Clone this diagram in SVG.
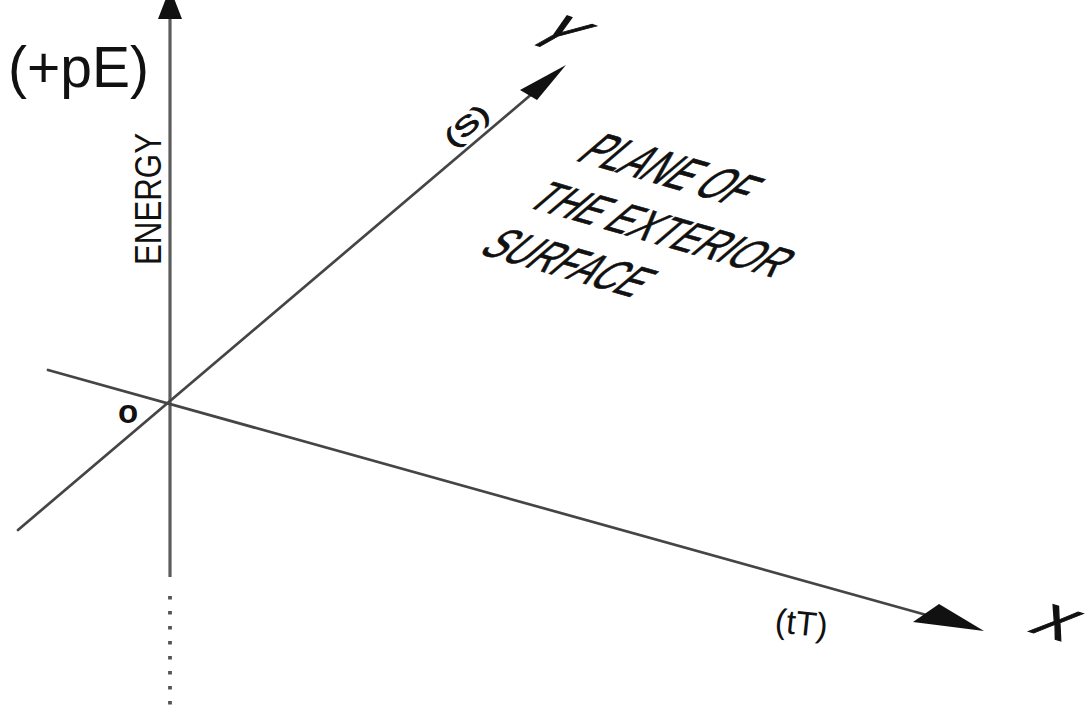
<svg xmlns="http://www.w3.org/2000/svg" width="1092" height="708" viewBox="0 0 1092 708">
  <style>
    .axis { stroke: #454545; stroke-width: 2.7; fill: none; stroke-linecap: round; }
    .vaxis { stroke: #5c5c5c; stroke-width: 3.2; fill: none; }
    .head { fill: #111; }
    .lbl { font-family: "Liberation Sans", Arial, Helvetica, sans-serif; fill: #111; }
    .thick { stroke: #111; stroke-width: 0.9; }
    .semi { stroke: #111; stroke-width: 0.45; }
  </style>
  <rect x="0" y="0" width="1092" height="708" fill="#ffffff"/>

  <g id="axes">
    <!-- vertical energy axis -->
    <line class="vaxis" x1="170" y1="14" x2="170" y2="577"/>
    <line x1="170" y1="596" x2="170" y2="708" stroke="#555" stroke-width="3.8" stroke-dasharray="3.5 11.5"/>
    <polygon class="head" points="170,-12 158,19 182,19"/>
    <!-- X axis -->
    <line class="axis" x1="48" y1="370" x2="930" y2="616"/>
    <polygon class="head" points="984,631 939,604 913,622"/>
    <!-- Y axis -->
    <line class="axis" x1="18" y1="530" x2="540" y2="87"/>
    <polygon class="head" points="566,65 520,90 537,100"/>
  </g>

  <g id="labels">
    <text class="lbl" x="8" y="87" font-size="57">(+pE)</text>
    <text class="lbl" transform="translate(161,265) rotate(-90)" font-size="37" textLength="132" lengthAdjust="spacingAndGlyphs">ENERGY</text>
    <text class="lbl" x="128" y="423" font-size="33" font-weight="bold" text-anchor="middle">o</text>
    <text class="lbl" transform="translate(774,632) rotate(6)" font-size="34">(tT)</text>
    <text class="lbl thick" transform="translate(467,126) rotate(-40) scale(1.35,0.9)" font-size="28" text-anchor="middle" y="9">(S)</text>
    <text class="lbl thick" transform="matrix(1.296,0.389,-0.862,0.983,1057,622)" font-size="40" text-anchor="middle" y="14.5">X</text>
    <text class="lbl thick" transform="matrix(1.185,0.407,-1.6,0.9,557,35)" font-size="40" text-anchor="middle" y="12">Y</text>
  </g>

  <g id="plane-label">
    <text class="lbl semi" transform="matrix(0.961,0.276,-1.34,1.14,574,160)" font-size="34">PLANE OF</text>
    <text class="lbl semi" transform="matrix(0.961,0.276,-1.19,1.01,524,206)" font-size="35">THE EXTERIOR</text>
    <text class="lbl semi" transform="matrix(0.961,0.276,-1.26,1.07,477,253)" font-size="34">SURFACE</text>
  </g>
</svg>
